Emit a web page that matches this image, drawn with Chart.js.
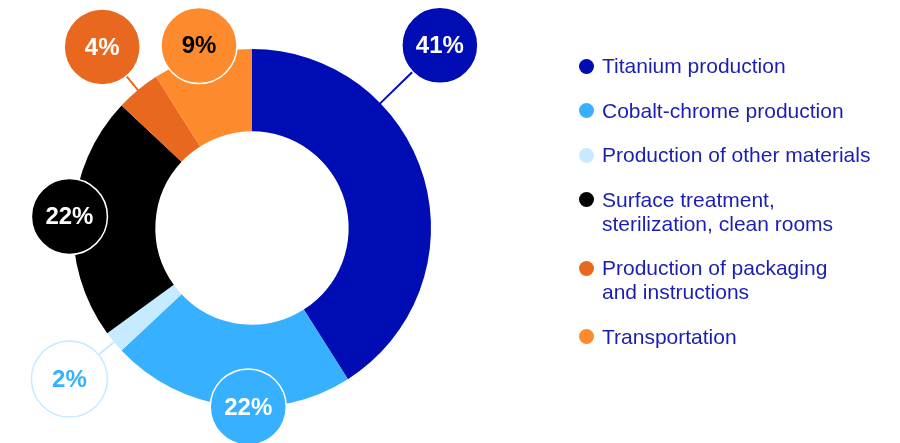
<!DOCTYPE html>
<html>
<head>
<meta charset="utf-8">
<title>Footprint by process</title>
<script src="https://cdn.jsdelivr.net/npm/chart.js@4/dist/chart.umd.min.js"></script>
<style>
  html, body { margin: 0; padding: 0; background: #fff; }
  #wrap { position: relative; width: 900px; height: 443px; overflow: hidden; }
  #chart { position: absolute; left: 0; top: 0; }
  #legend {
    position: absolute; left: 578.5px; top: 54px;
    list-style: none; margin: 0; padding: 0;
    font-family: 'Liberation Sans', Arial, sans-serif;
    font-size: 21px; line-height: 24px; color: #1b1eb2;
  }
  #legend li { position: relative; padding-left: 23.5px; margin-bottom: 20.5px; white-space: nowrap; }
  #legend .dot { position: absolute; left: 0; top: 4.5px; width: 15px; height: 15px; border-radius: 50%; }
</style>
</head>
<body>
<div id="wrap">
  <canvas id="chart" width="900" height="443"></canvas>
  <ul id="legend"></ul>
</div>
<script>
const labels = [
  'Titanium production',
  'Cobalt-chrome production',
  'Production of other materials',
  ['Surface treatment,', 'sterilization, clean rooms'],
  ['Production of packaging', 'and instructions'],
  'Transportation'
];
const shares = [41, 22, 2, 22, 4, 9];
const colors = ['#000cb4', '#36b0ff', '#c6eaff', '#000000', '#e8681f', '#fd8b2d'];

// value bubbles: distance from centre (in outer radii) and turn off the slice middle (deg)
const bubbleDist = [1.464, 1.0, 1.324, 1.022, 1.313, 1.061];
const bubbleTurn = [-28, -6, 0, 0, 0, 0];
const bubbleFill = ['#000cb4', '#36b0ff', '#ffffff', '#000000', '#e8681f', '#fd8b2d'];
const bubbleEdge = ['#ffffff', '#ffffff', '#c6eaff', '#ffffff', '#ffffff', '#ffffff'];
const bubbleInk = ['#ffffff', '#ffffff', '#36b0ff', '#ffffff', '#ffffff', '#000000'];
const BUBBLE_R = 38;

const bubbles = {
  id: 'bubbles',
  afterDatasetsDraw(chart) {
    const ctx = chart.ctx;
    const values = chart.data.datasets[0].data;
    chart.getDatasetMeta(0).data.forEach((arc, i) => {
      const { x, y, startAngle, endAngle, outerRadius } =
        arc.getProps(['x', 'y', 'startAngle', 'endAngle', 'outerRadius'], true);
      const a = (startAngle + endAngle) / 2 + bubbleTurn[i] * Math.PI / 180;
      const d = outerRadius * bubbleDist[i];
      const cx = x + Math.cos(a) * d;
      const cy = y + Math.sin(a) * d;

      ctx.save();
      if (d - BUBBLE_R > outerRadius) {
        ctx.strokeStyle = colors[i];
        ctx.lineWidth = 2;
        ctx.beginPath();
        ctx.moveTo(x + Math.cos(a) * (outerRadius - 2), y + Math.sin(a) * (outerRadius - 2));
        ctx.lineTo(x + Math.cos(a) * (d - BUBBLE_R), y + Math.sin(a) * (d - BUBBLE_R));
        ctx.stroke();
      }
      ctx.beginPath();
      ctx.arc(cx, cy, BUBBLE_R, 0, Math.PI * 2);
      ctx.fillStyle = bubbleFill[i];
      ctx.fill();
      ctx.lineWidth = 1.5;
      ctx.strokeStyle = bubbleEdge[i];
      ctx.stroke();

      ctx.fillStyle = bubbleInk[i];
      ctx.font = 'bold 24px "Liberation Sans", Arial, sans-serif';
      ctx.textAlign = 'center';
      ctx.textBaseline = 'middle';
      ctx.fillText(values[i] + '%', cx, cy + 1);
      ctx.restore();
    });
  }
};

const chart = new Chart(document.getElementById('chart'), {
  type: 'doughnut',
  data: {
    labels: labels,
    datasets: [{
      data: shares,
      backgroundColor: colors,
      borderWidth: 0,
      hoverOffset: 0
    }]
  },
  options: {
    responsive: false,
    animation: false,
    cutout: '54%',
    layout: { padding: { left: 73, top: 49, right: 469, bottom: 36 } },
    plugins: {
      legend: { display: false },
      tooltip: { enabled: false }
    }
  },
  plugins: [bubbles]
});

// legend list next to the ring
const legendEl = document.getElementById('legend');
chart.data.labels.forEach((label, i) => {
  const li = document.createElement('li');
  const dot = document.createElement('span');
  dot.className = 'dot';
  dot.style.background = colors[i];
  li.appendChild(dot);
  const lines = Array.isArray(label) ? label : [label];
  lines.forEach((line, k) => {
    if (k) li.appendChild(document.createElement('br'));
    li.appendChild(document.createTextNode(line));
  });
  legendEl.appendChild(li);
});
</script>
</body>
</html>
